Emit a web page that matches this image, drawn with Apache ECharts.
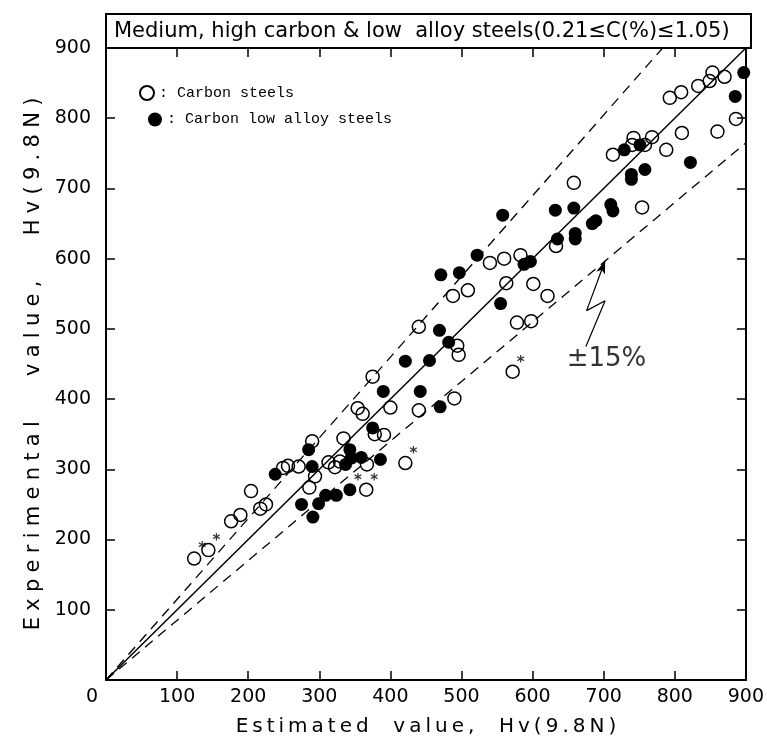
<!DOCTYPE html>
<html>
<head>
<meta charset="utf-8">
<title>Experimental vs estimated hardness</title>
<script src="https://cdn.jsdelivr.net/npm/echarts@6/dist/echarts.min.js"></script>
<style>
  html, body { margin: 0; padding: 0; background: #fff; }
  #chart { width: 767px; height: 742px; }
</style>
</head>
<body>
<div id="chart"></div>
<script>
// [estimated Hv, experimental Hv]
var carbonSteels = [
  [124, 173], [144, 185], [176, 226], [189, 235], [204, 269], [217, 244], [225, 250],
  [249, 302], [256, 305], [271, 304], [290, 340], [294, 290], [286, 274], [313, 310],
  [322, 303], [329, 311], [334, 344], [354, 387], [361, 379], [367, 307], [375, 432],
  [378, 350], [391, 349], [366, 271], [421, 309], [400, 388], [440, 384], [440, 503],
  [488, 547], [490, 401], [494, 476], [496, 463], [509, 555], [540, 594], [560, 600],
  [583, 605], [563, 565], [601, 564], [621, 547], [578, 509], [598, 511], [572, 439],
  [633, 618], [658, 708], [713, 748], [740, 762], [742, 772], [758, 762], [768, 773],
  [788, 755], [810, 779], [754, 673], [860, 781], [886, 799], [793, 829], [809, 837],
  [833, 846], [849, 853], [853, 865], [870, 859]
]
var lowAlloySteels = [
  [238, 293], [285, 328], [290, 304], [275, 250], [291, 232], [299, 251], [309, 263],
  [324, 263], [343, 271], [337, 307], [343, 328], [345, 316], [359, 317], [386, 314],
  [375, 359], [390, 411], [421, 454], [455, 455], [442, 411], [470, 389], [469, 498],
  [482, 481], [471, 577], [497, 580], [522, 605], [588, 592], [597, 596], [555, 536],
  [558, 662], [635, 628], [632, 669], [658, 672], [660, 636], [660, 628], [684, 650],
  [689, 654], [710, 677], [713, 668], [729, 755], [751, 762], [739, 720], [739, 713],
  [758, 727], [822, 737], [885, 831], [897, 865]
]
// points marked with an asterisk
var starred = [[124, 173], [144, 185], [291, 232], [343, 271], [366, 271], [421, 309], [572, 439]]

// reference lines: equality and +-15 %
var equalLine = [[0, 0], [900, 900]]
var upperLine = [[0, 0], [783, 900]]
var lowerLine = [[0, 0], [900, 765]]
var arrowPath = [[675, 475], [702, 540], [676, 526], [702, 597]]
var bandLabelAt = [[704, 457]]

var axisMin = 0
var axisMax = 900
var axisStep = 100

var titleText = 'Medium, high carbon & low  alloy steels(0.21\u2264C(%)\u22641.05)'
var xName = 'Estimated  value,  Hv(9.8N)'
var yName = 'Experimental   value,   Hv(9.8N)'

function spaced(s, gap) {
  return s.split('').join(gap)
}

var font = 'DejaVu Sans'
var black = '#000'

function frameAxis(pos, extra) {
  var a = {
    type: 'value',
    position: pos,
    min: axisMin,
    max: axisMax,
    interval: axisStep,
    axisLine: { show: true, onZero: false, lineStyle: { color: black, width: 2 } },
    axisTick: { show: true, inside: true, length: 9, lineStyle: { color: black, width: 1.5 } },
    splitLine: { show: false },
    axisLabel: { show: false }
  }
  return Object.assign(a, extra || {})
}

var chart = echarts.init(document.getElementById('chart'))

var arrowData = arrowPath.map(function(p, i) {
  if (i === arrowPath.length - 1) {
    return { value: p, symbol: 'arrow', symbolSize: [7, 13], symbolRotate: -20 }
  }
  return { value: p, symbol: 'none' }
})

chart.setOption({
  animation: false,
  backgroundColor: '#fff',
  grid: { left: 106, right: 16, top: 48, bottom: 59 },
  graphic: [
    {
      type: 'rect',
      shape: { x: 106, y: 14, width: 645, height: 34 },
      style: { fill: 'none', stroke: black, lineWidth: 2 }
    },
    {
      type: 'text',
      x: 114,
      y: 32,
      style: { text: titleText, font: '21px "DejaVu Sans"', fill: black, verticalAlign: 'middle' }
    }
  ],
  legend: [
    {
      data: ['Carbon steels'],
      left: 134, top: 80,
      itemWidth: 14, itemHeight: 14, itemGap: 4,
      selectedMode: false,
      formatter: ': {name}',
      textStyle: { fontFamily: 'Liberation Mono', fontSize: 15, color: black }
    },
    {
      data: ['Carbon low alloy steels'],
      left: 143, top: 107,
      itemWidth: 14, itemHeight: 14, itemGap: 4,
      selectedMode: false,
      formatter: ': {name}',
      textStyle: { fontFamily: 'Liberation Mono', fontSize: 15, color: black }
    }
  ],
  xAxis: [
    frameAxis('bottom', {
      name: spaced(xName, '\u2009'),
      nameLocation: 'middle',
      nameGap: 37,
      nameTextStyle: { fontFamily: font, fontSize: 20, color: black },
      axisLabel: {
        show: true,
        margin: 8,
        fontFamily: font,
        fontSize: 19,
        color: black,
        formatter: function(v) { return v === 0 ? '{z|0}' : String(v) },
        rich: { z: { fontFamily: font, fontSize: 19, color: black, padding: [0, 28, 0, 0] } }
      }
    }),
    frameAxis('top')
  ],
  yAxis: [
    frameAxis('left', {
      name: spaced(yName, '\u2009\u200a'),
      nameLocation: 'middle',
      nameGap: 62,
      nameTextStyle: { fontFamily: font, fontSize: 21, color: black },
      axisLabel: {
        show: true,
        margin: 15,
        fontFamily: font,
        fontSize: 19,
        color: black,
        showMinLabel: false
      }
    }),
    frameAxis('right')
  ],
  series: [
    {
      type: 'line', data: equalLine, symbol: 'none', silent: true, z: 1,
      lineStyle: { color: black, width: 1.5 }
    },
    {
      type: 'line', data: upperLine, symbol: 'none', silent: true, z: 1,
      lineStyle: { color: black, width: 1.3, type: [10, 7] }
    },
    {
      type: 'line', data: lowerLine, symbol: 'none', silent: true, z: 1,
      lineStyle: { color: black, width: 1.3, type: [10, 7] }
    },
    {
      type: 'line', data: arrowData, silent: true, z: 1,
      itemStyle: { color: black },
      lineStyle: { color: black, width: 1.2 }
    },
    {
      type: 'scatter', data: bandLabelAt, symbolSize: 1, silent: true,
      itemStyle: { color: 'transparent' },
      label: { show: true, position: 'inside', formatter: '\u00b115%', fontFamily: font, fontSize: 26, color: black }
    },
    {
      name: 'Carbon low alloy steels',
      type: 'scatter', data: lowAlloySteels, symbol: 'circle', symbolSize: 13, z: 3,
      itemStyle: { color: black, opacity: 1 }
    },
    {
      name: 'Carbon steels',
      type: 'scatter', data: carbonSteels, symbol: 'circle', symbolSize: 13, z: 4,
      itemStyle: { color: 'rgba(255,255,255,0)', borderColor: black, borderWidth: 1.5, opacity: 1 }
    },
    {
      type: 'scatter', data: starred, symbolSize: 1, silent: true, z: 5,
      itemStyle: { color: 'transparent' },
      label: {
        show: true, position: 'inside', offset: [8, -9], formatter: '*',
        fontFamily: font, fontSize: 15, fontWeight: 'bold', color: black
      }
    }
  ]
})
</script>
</body>
</html>
